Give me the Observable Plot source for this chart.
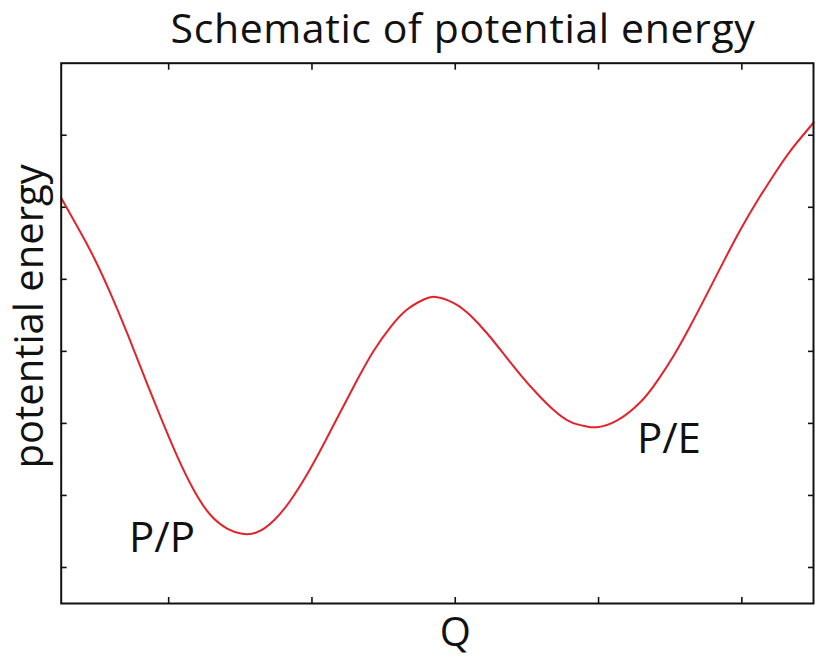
<!DOCTYPE html>
<html>
<head>
<meta charset="utf-8">
<script src="https://cdn.jsdelivr.net/npm/d3@7"></script>
<script src="https://cdn.jsdelivr.net/npm/@observablehq/plot@0.6"></script>
<style>
  html, body { margin: 0; padding: 0; background: #fff; }
  #wrap { width: 816px; height: 659px; font-family: "Open Sans", "Noto Sans", sans-serif; }
  #title { height: 55px; line-height: 55px; font-size: 41px; letter-spacing: 0.6px; text-align: center; padding-left: 110px; color: #111; white-space: nowrap; }
  #chart svg { overflow: visible; }
</style>
</head>
<body>
<div id="wrap">
  <div id="title">Schematic of potential energy</div>
  <div id="chart"></div>
</div>
<script>
// Reaction coordinate Q (x) and potential energy (y)
const qValues = [0.25, 0.364, 0.477, 0.594, 0.711, 0.826, 0.943, 1.059, 1.175, 1.292, 1.408, 1.513,
  1.618, 1.734, 1.850, 1.967, 2.083, 2.199, 2.316, 2.431, 2.548, 2.664, 2.780, 2.862,
  2.990, 3.106, 3.223, 3.339, 3.455, 3.572, 3.688, 3.804, 3.909, 3.990,
  4.130, 4.293, 4.409, 4.525, 4.641, 4.758, 4.874, 4.990, 5.107, 5.223, 5.339, 5.5];
const energyValues = [5.129, 4.726, 4.307, 3.805, 3.248, 2.669, 2.090, 1.546, 1.076, 0.728, 0.541, 0.468,
  0.490, 0.652, 0.930, 1.296, 1.717, 2.161, 2.605, 3.009, 3.338, 3.581, 3.720, 3.755,
  3.671, 3.498, 3.248, 2.962, 2.675, 2.411, 2.183, 2.021, 1.960, 1.947,
  2.042, 2.297, 2.587, 2.944, 3.356, 3.802, 4.252, 4.687, 5.086, 5.449, 5.784, 6.174];

const xTicks = [1, 2, 3, 4, 5];
const yTicks = [0, 1, 2, 3, 4, 5, 6];

const stateLabels = ["P/P", "P/E"];
const stateQ = [0.953, 4.491];
const stateEnergy = [0.40, 1.77];

const curve = qValues.map((q, i) => ({q, e: energyValues[i]}));
const states = stateLabels.map((name, i) => ({name, q: stateQ[i], e: stateEnergy[i]}));

const font = '"Open Sans", "Noto Sans", sans-serif';
const tickOpts = {tickSize: -6, tickFormat: () => "", label: null, strokeWidth: 1.6, stroke: "#111"};

const chart = Plot.plot({
  width: 816,
  height: 604,
  marginTop: 7.7,
  marginLeft: 60.7,
  marginRight: 3,
  marginBottom: 56,
  style: {fontFamily: font, background: "#fff", overflow: "visible"},
  x: {domain: [0.25, 5.5]},
  y: {domain: [-0.5, 7]},
  marks: [
    Plot.axisX(xTicks, {anchor: "bottom", ...tickOpts}),
    Plot.axisX(xTicks, {anchor: "top", ...tickOpts}),
    Plot.axisY(yTicks, {anchor: "left", ...tickOpts}),
    Plot.axisY(yTicks, {anchor: "right", ...tickOpts}),
    Plot.line(curve, {x: "q", y: "e", curve: "natural", stroke: "#e3232b", strokeWidth: 2}),
    Plot.text(states, {x: "q", y: "e", text: "name", fontSize: 42, fill: "#111", textAnchor: "middle"}),
    Plot.text(["Q"], {x: [3], text: d => d, frameAnchor: "bottom", lineAnchor: "top", dy: 14, fontSize: 40, fill: "#111"}),
    Plot.text(["potential energy"], {text: d => d, frameAnchor: "left", rotate: -90, dx: -31, dy: -17, fontSize: 40, fill: "#111", textAnchor: "middle"}),
    Plot.frame({stroke: "#111", strokeWidth: 2})
  ]
});
document.getElementById("chart").appendChild(chart);
</script>
</body>
</html>
